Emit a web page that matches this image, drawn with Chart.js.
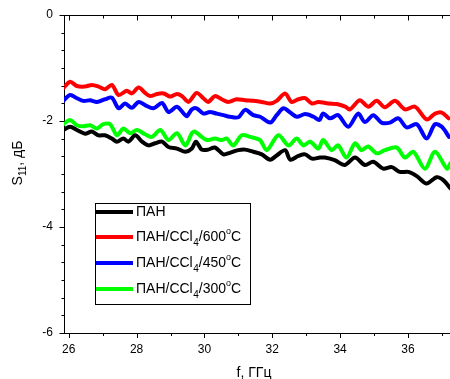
<!DOCTYPE html>
<html>
<head>
<meta charset="utf-8">
<script src="https://cdn.jsdelivr.net/npm/chart.js@4.4.0/dist/chart.umd.min.js"></script>
<style>
    html, body { margin: 0; padding: 0; background: #fff; }
    canvas { display: block; }
</style>
</head>
<body>
<canvas id="grafico" width="450" height="379"></canvas>
<script>
// S11 vs frequency, four samples
const freqBlack = [25.84, 26.04, 26.24, 26.48, 26.68, 26.88, 27.07, 27.27, 27.42, 27.61, 27.76, 27.96, 28.16, 28.35, 28.55, 28.75, 28.94, 29.19, 29.44, 29.63,
    29.75, 29.92, 30.11, 30.31, 30.56, 30.75, 31.0, 31.2, 31.44, 31.69, 31.94, 32.13, 32.38, 32.53, 32.77, 32.97, 33.17, 33.41,
    33.55, 33.84, 34.14, 34.44, 34.73, 34.98, 35.27, 35.52, 35.76, 36.01, 36.26, 36.55, 36.85, 37.05, 37.25];
const valBlack = [-2.17, -2.11, -2.17, -2.24, -2.20, -2.27, -2.27, -2.33, -2.39, -2.33, -2.39, -2.27, -2.39, -2.46, -2.42, -2.39, -2.49, -2.52, -2.58, -2.52,
    -2.39, -2.54, -2.54, -2.50, -2.63, -2.60, -2.55, -2.54, -2.58, -2.63, -2.73, -2.65, -2.55, -2.73, -2.66, -2.63, -2.71, -2.69,
    -2.69, -2.74, -2.83, -2.69, -2.83, -2.77, -2.90, -2.87, -2.96, -2.96, -3.04, -3.18, -3.06, -3.12, -3.27];

const freqRed = [25.84, 26.04, 26.24, 26.48, 26.68, 26.88, 27.07, 27.27, 27.47, 27.71, 27.86, 28.06, 28.25, 28.40, 28.60, 28.80, 28.99, 29.19, 29.34, 29.53,
    29.77, 29.97, 30.11, 30.31, 30.51, 30.70, 30.95, 31.20, 31.44, 31.69, 31.94, 32.13, 32.38, 32.57, 32.77, 32.97, 33.17, 33.36,
    33.65, 33.90, 34.15, 34.29, 34.58, 34.83, 35.08, 35.32, 35.62, 35.91, 36.21, 36.55, 36.80, 37.00, 37.20];
const valRed = [-1.38, -1.26, -1.34, -1.35, -1.32, -1.35, -1.40, -1.32, -1.51, -1.43, -1.48, -1.37, -1.47, -1.53, -1.49, -1.48, -1.54, -1.49, -1.53, -1.64,
    -1.47, -1.57, -1.64, -1.53, -1.59, -1.64, -1.59, -1.61, -1.62, -1.64, -1.67, -1.62, -1.48, -1.64, -1.59, -1.57, -1.67, -1.64,
    -1.67, -1.68, -1.73, -1.78, -1.61, -1.73, -1.62, -1.74, -1.62, -1.78, -1.73, -1.97, -1.86, -1.84, -1.95];

const freqBlue = [25.84, 26.04, 26.24, 26.43, 26.63, 26.83, 27.07, 27.27, 27.47, 27.66, 27.86, 28.06, 28.25, 28.50, 28.75, 28.94, 29.19, 29.39, 29.48, 29.63,
    29.77, 29.97, 30.16, 30.36, 30.56, 30.75, 31.00, 31.20, 31.44, 31.64, 31.94, 32.13, 32.33, 32.53, 32.72, 32.97, 33.22, 33.39,
    33.50, 33.70, 33.94, 34.24, 34.53, 34.73, 34.98, 35.22, 35.47, 35.72, 35.96, 36.26, 36.55, 36.80, 37.00, 37.21];
const valBlue = [-1.62, -1.51, -1.57, -1.62, -1.61, -1.64, -1.59, -1.56, -1.76, -1.67, -1.75, -1.64, -1.70, -1.76, -1.66, -1.83, -1.73, -1.86, -1.91, -1.78,
    -1.76, -1.86, -1.83, -1.86, -1.89, -1.92, -1.93, -1.79, -1.89, -1.92, -2.03, -1.89, -1.76, -1.84, -1.92, -1.87, -1.92, -1.98,
    -1.86, -1.95, -1.89, -2.11, -1.86, -2.02, -1.89, -2.03, -2.03, -1.95, -2.12, -2.06, -2.33, -2.06, -2.11, -2.30];

const freqGreen = [25.84, 26.04, 26.24, 26.43, 26.63, 26.83, 27.02, 27.22, 27.42, 27.61, 27.81, 28.01, 28.25, 28.45, 28.70, 28.94, 29.19, 29.44, 29.63,
    29.72, 29.92, 30.07, 30.31, 30.51, 30.66, 30.85, 31.10, 31.35, 31.64, 31.84, 32.18, 32.48, 32.72, 32.92, 33.12, 33.36,
    33.50, 33.75, 33.94, 34.19, 34.44, 34.63, 34.83, 35.08, 35.32, 35.67, 35.91, 36.16, 36.50, 36.80, 37.15, 37.25];
const valGreen = [-2.06, -1.98, -2.08, -2.10, -2.08, -2.14, -2.06, -2.06, -2.27, -2.14, -2.23, -2.17, -2.25, -2.30, -2.17, -2.36, -2.23, -2.46, -2.23,
    -2.20, -2.30, -2.36, -2.33, -2.36, -2.33, -2.46, -2.27, -2.30, -2.36, -2.55, -2.27, -2.46, -2.33, -2.46, -2.39, -2.52,
    -2.36, -2.55, -2.46, -2.69, -2.42, -2.55, -2.48, -2.61, -2.55, -2.50, -2.69, -2.58, -2.90, -2.58, -2.90, -2.80];

// legend: [text, subscript, text, text after degree sign]
const legendNames = [
    ['ПАН', '', '', ''],
    ['ПАН/CCl', '4', '/600', 'C'],
    ['ПАН/CCl', '4', '/450', 'C'],
    ['ПАН/CCl', '4', '/300', 'C']
];
const lineColors = ['#000000', '#ff0000', '#0000ff', '#00ff00'];

const xTickLabels = [26, 28, 30, 32, 34, 36];
const yTickLabels = [0, -2, -4, -6];

const FONT = "'Liberation Sans', Arial, sans-serif";

function pontos(xs, ys) {
    return xs.map(function (x, i) { return { x: x, y: ys[i] }; });
}

function serie(label, xs, ys, cor) {
    return {
        label: label,
        data: pontos(xs, ys),
        borderColor: cor,
        backgroundColor: cor,
        borderWidth: 4,
        pointRadius: 0,
        tension: 0.3,
        borderJoinStyle: 'round',
        borderCapStyle: 'round',
        clip: 0
    };
}

// tick marks, top frame, legend and axis titles
const desenhoExtra = {
    id: 'desenhoExtra',
    afterDraw(chart) {
        const ctx = chart.ctx;
        const area = chart.chartArea;
        const xs = chart.scales.x;
        const ys = chart.scales.y;
        const top = Math.round(area.top) + 0.5;
        const bottom = Math.round(area.bottom);
        const left = Math.round(area.left) + 0.5;

        ctx.save();
        ctx.strokeStyle = '#000';
        ctx.lineWidth = 1;

        ctx.beginPath();
        ctx.moveTo(area.left, top);
        ctx.lineTo(area.right, top);
        ctx.stroke();

        // x ticks: outward at the bottom, inward at the top
        for (let v = 26; v <= 37; v++) {
            const px = Math.round(xs.getPixelForValue(v)) + 0.5;
            const len = xTickLabels.indexOf(v) >= 0 ? 5 : 3;
            ctx.beginPath();
            ctx.moveTo(px, bottom);
            ctx.lineTo(px, bottom + len);
            ctx.moveTo(px, top);
            ctx.lineTo(px, top + len);
            ctx.stroke();
        }

        // y ticks, outward on the left
        ys.ticks.forEach(function (t) {
            const py = Math.round(ys.getPixelForValue(t.value)) + 0.5;
            const major = yTickLabels.some(function (l) { return Math.abs(l - t.value) < 1e-6; });
            const len = major ? 5 : 3;
            ctx.beginPath();
            ctx.moveTo(left - len, py);
            ctx.lineTo(left, py);
            ctx.stroke();
        });

        // legend
        ctx.strokeRect(95.5, 203.5, 155, 101);
        const rowsY = [212, 237, 263, 289];
        ctx.fillStyle = '#000';
        ctx.textBaseline = 'middle';
        ctx.textAlign = 'left';
        legendNames.forEach(function (n, i) {
            const y = rowsY[i];
            ctx.strokeStyle = lineColors[i];
            ctx.lineWidth = 4;
            ctx.beginPath();
            ctx.moveTo(96, y);
            ctx.lineTo(133, y);
            ctx.stroke();

            let x = 136;
            ctx.font = '14px ' + FONT;
            ctx.fillText(n[0], x, y);
            x += ctx.measureText(n[0]).width;
            if (n[1]) {
                ctx.font = '10px ' + FONT;
                ctx.fillText(n[1], x + 0.5, y + 6);
                x += ctx.measureText(n[1]).width + 0.5;
                ctx.font = '14px ' + FONT;
                ctx.fillText(n[2], x, y);
                x += ctx.measureText(n[2]).width;
                ctx.font = '9px ' + FONT;
                ctx.fillText('o', x, y - 5);
                x += ctx.measureText('o').width;
                ctx.font = '14px ' + FONT;
                ctx.fillText(n[3], x, y);
            }
        });

        // x axis title
        ctx.fillStyle = '#000';
        ctx.font = '14px ' + FONT;
        ctx.textAlign = 'center';
        ctx.textBaseline = 'alphabetic';
        ctx.fillText('f, ГГц', 254, 377);

        // y axis title, rotated, S with subscript 11
        ctx.translate(21.5, 163);
        ctx.rotate(-Math.PI / 2);
        ctx.textAlign = 'left';
        const parts = [['S', 14, 0], ['11', 10, 4], [', дБ', 14, 0]];
        let total = 0;
        parts.forEach(function (p) { ctx.font = p[1] + 'px ' + FONT; total += ctx.measureText(p[0]).width; });
        let tx = -total / 2;
        parts.forEach(function (p) {
            ctx.font = p[1] + 'px ' + FONT;
            ctx.fillText(p[0], tx, p[2]);
            tx += ctx.measureText(p[0]).width;
        });
        ctx.restore();
    }
};

const ctx = document.getElementById('grafico');

new Chart(ctx, {
    type: 'line',
    data: {
        datasets: [
            serie('ПАН', freqBlack, valBlack, lineColors[0]),
            serie('ПАН/CCl4/600°C', freqRed, valRed, lineColors[1]),
            serie('ПАН/CCl4/450°C', freqBlue, valBlue, lineColors[2]),
            serie('ПАН/CCl4/300°C', freqGreen, valGreen, lineColors[3])
        ]
    },
    options: {
        responsive: false,
        animation: false,
        devicePixelRatio: 1,
        layout: { padding: { top: 15, right: 0, left: 0, bottom: 0 } },
        plugins: {
            legend: { display: false },
            tooltip: { enabled: false }
        },
        scales: {
            x: {
                type: 'linear',
                min: 25.86,
                max: 37.24,
                grid: { display: false },
                border: { display: true, color: '#000', width: 1 },
                afterBuildTicks: function (s) {
                    s.ticks = xTickLabels.map(function (v) { return { value: v }; });
                },
                afterFit: function (s) {
                    s.height = 46;
                    s.paddingLeft = 0;
                    s.paddingRight = 0;
                },
                ticks: {
                    autoSkip: false,
                    maxRotation: 0,
                    padding: 1,
                    color: '#000',
                    font: { family: FONT, size: 12 },
                    callback: function (v) { return String(v); }
                }
            },
            y: {
                type: 'linear',
                min: -6,
                max: 0,
                grid: { display: false },
                border: { display: true, color: '#000', width: 1 },
                afterBuildTicks: function (s) {
                    const t = [];
                    for (let k = 0; k <= 18; k++) t.push({ value: -k / 3 });
                    s.ticks = t;
                },
                afterFit: function (s) {
                    s.width = 64;
                    s.paddingTop = 0;
                    s.paddingBottom = 0;
                },
                ticks: {
                    autoSkip: false,
                    padding: 3,
                    color: '#000',
                    font: { family: FONT, size: 12 },
                    callback: function (v) {
                        const r = Math.round(v);
                        if (Math.abs(v - r) < 1e-6 && yTickLabels.indexOf(r) >= 0) return String(r);
                        return '';
                    }
                }
            }
        }
    },
    plugins: [desenhoExtra]
});
</script>
</body>
</html>
